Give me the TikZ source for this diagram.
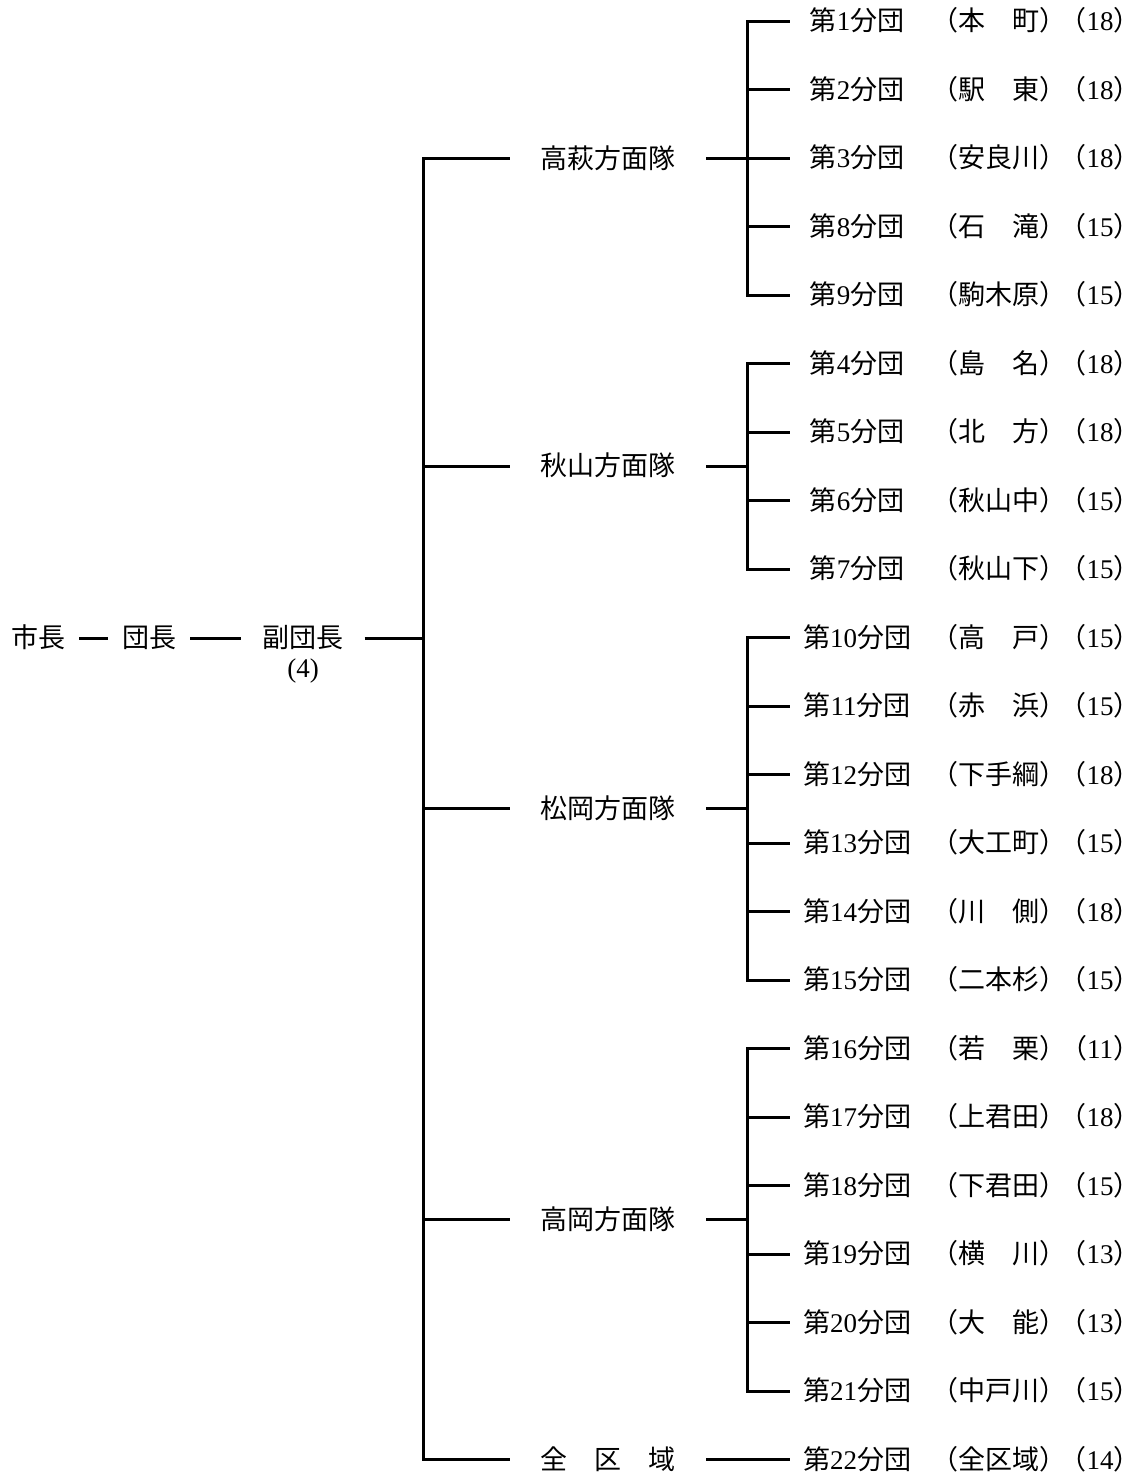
\documentclass[tikz,border=0pt]{standalone}
\usepackage{fontspec}
\setmainfont{Liberation Serif}
\newfontfamily\jp{Noto Sans CJK JP}
\usetikzlibrary{positioning}

\newcommand\unitname[1]{{\jp 第}#1{\jp 分団}}

\begin{document}
\begin{tikzpicture}[x=1pt, y=-1pt,
        every node/.style={font=\fontsize{27}{31}\selectfont, text height=23pt, text depth=4pt, inner ysep=0pt},
        head/.style={inner xsep=14pt},
        hq/.style={minimum width=196pt, inner xsep=0pt},
        unit/.style={minimum width=134pt, inner xsep=0pt},
        link/.style={line width=3pt}
    ]
        \useasboundingbox (0,0) rectangle (1141,1478);

        % Top row
        \node[head] (mayor) at (38,638) {\jp 市長};
        \node[head] (chief) at (149,638) {\jp 団長};
        \node[head, inner xsep=21pt] (vice) at (303,638) {\jp 副団長};
        \node[below=3pt of vice] (vicecnt) {(4)};

        % Districts
        \node[hq] (takahagi) at (608,158.5) {\jp 高萩方面隊};
        \node[hq] (akiyama) at (608,466) {\jp 秋山方面隊};
        \node[hq] (matsuoka) at (608,808.75) {\jp 松岡方面隊};
        \node[hq] (takaoka) at (608,1219.75) {\jp 高岡方面隊};
        \node[hq] (zenku) at (608,1459.5) {\jp 全　区　域};

        % Units
        \foreach \n/\place/\cnt [count=\r from 0] in {1/本　町/18, 2/駅　東/18, 3/安良川/18, 8/石　滝/15, 9/駒木原/15,
                4/島　名/18, 5/北　方/18, 6/秋山中/15, 7/秋山下/15,
                10/高　戸/15, 11/赤　浜/15, 12/下手綱/18, 13/大工町/15, 14/川　側/18, 15/二本杉/15,
                16/若　栗/11, 17/上君田/18, 18/下君田/15, 19/横　川/13, 20/大　能/13, 21/中戸川/15,
                22/全区域/14} {
            \pgfmathsetmacro\y{21+68.5*\r}
            \node[unit] (u\n) at (857,\y) {\unitname{\n}};
            \node (p\n) at (999,\y) {\jp （\place）};
            \node (c\n) at (1100,\y) {{\jp （}\cnt{\jp ）}};
        }

        % Connection
        \coordinate (mbus) at (423,0);
        \coordinate (gbus) at (747,0);
        \draw[link] (mayor) -- (chief);
        \draw[link] (chief) -- (vice);
        \draw[link] (vice) -- (vice -| mbus);
        \draw[link] (takahagi.west) -| (mbus |- zenku.west) -- (zenku.west);
        \foreach \d in {akiyama, matsuoka, takaoka}
            \draw[link] (mbus |- \d.west) -- (\d.west);

        \foreach \d/\a/\b in {takahagi/1/9, akiyama/4/7, matsuoka/10/15, takaoka/16/21} {
            \draw[link] (\d.east) -- (gbus |- \d.east);
            \draw[link] (u\a.west) -| (gbus |- u\b.west) -- (u\b.west);
        }
        \foreach \n in {2,3,8,5,6,11,12,13,14,17,18,19,20}
            \draw[link] (gbus |- u\n.west) -- (u\n.west);
        \draw[link] (zenku.east) -- (u22.west);
    \end{tikzpicture}
\end{document}
